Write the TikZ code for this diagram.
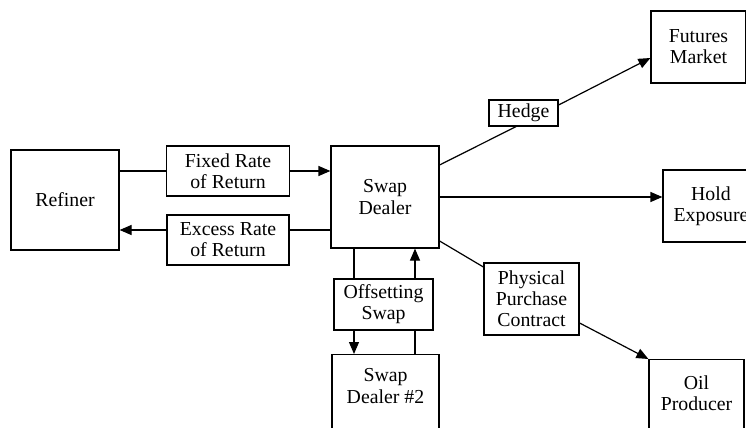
\documentclass[tikz,border=0pt]{standalone}
\usepackage{fontspec}
\setmainfont{Liberation Serif}
\usetikzlibrary{arrows.meta}

\begin{document}
\begin{tikzpicture}[x=0.5pt,y=-0.5pt,
  line width=0.6pt,
  box/.style = {draw,fill=white,align=center,inner sep=1pt,
        font=\fontsize{9.9}{10.6}\selectfont},
  txt/.style = {align=center,inner sep=1pt,
        font=\fontsize{9.9}{10.6}\selectfont}]
 \useasboundingbox (0,0) rectangle (746,428);
 \clip (0,0) rectangle (746,428);
 % left side
 \node[box,minimum width=54pt,minimum height=50pt] (refiner) at (65,200) {Refiner};
 \node[box,minimum width=61.5pt,minimum height=25pt] (fixed) at (228,171) {Fixed Rate\\of Return};
 \node[box,minimum width=61pt,minimum height=25pt] (excess) at (228,240) {Excess Rate\\of Return};
 % dealers
 \node[box,minimum width=54pt,minimum height=51pt] (dealer) at (385,197) {Swap\\Dealer};
 \node[box,minimum width=49.5pt,minimum height=25.5pt] (offset) at (383.5,304.5) {Offsetting\\Swap};
 \node[box,minimum width=53.5pt,minimum height=50pt,anchor=north] (dealer2) at (385.5,354) {};
 \node[txt] (dealer2txt) at (385.5,386) {Swap\\Dealer \#2};
 % right side
 \node[box,minimum width=34.5pt,minimum height=13pt] (hedge) at (523.5,113) {Hedge};
 \node[box,minimum width=47.5pt,minimum height=36pt] (futures) at (698.5,47) {Futures\\Market};
 \node[box,minimum width=48pt,minimum height=36pt] (hold) at (711,206) {Hold\\Exposure};
 \node[box,minimum width=47.5pt,minimum height=36pt] (physical) at (531.5,299) {Physical\\Purchase\\Contract};
 \node[box,minimum width=47.5pt,minimum height=50pt,anchor=north] (oil) at (696.5,359) {};
 \node[txt] (oiltxt) at (696.5,393) {Oil\\Producer};
 \begin{scope}[>={Triangle[length=6pt,width=5pt]}]
  \draw (refiner.east |- fixed.center) -- (fixed.west);
  \draw[->] (fixed.east) -- (fixed.east -| dealer.west);
  \draw ([yshift=5pt]excess.east -| dealer.west) -- ([yshift=5pt]excess.east);
  \draw[->] ([yshift=5pt]excess.west) -- ([yshift=5pt]excess.west -| refiner.east);
  % offsetting swap
  \draw ([xshift=-15.5pt]dealer.south) -- ([xshift=-15.5pt]dealer.south |- offset.north);
  \draw[->] ([xshift=-15.5pt]dealer.south |- offset.south) -- ([xshift=-15.5pt]dealer.south |- dealer2.north);
  \draw ([xshift=15pt]dealer2.north -| dealer.south) -- ([xshift=15pt]dealer.south |- offset.south);
  \draw[->] ([xshift=15pt]dealer.south |- offset.north) -- ([xshift=15pt]dealer.south);
  % hedge, hold, physical
  \draw ([yshift=16pt]dealer.east) -- ([xshift=-3.75pt]hedge.south);
  \draw[->] ([yshift=4pt]hedge.east) -- ([yshift=-5.5pt]futures.west);
  \draw[->] (dealer.east) -- (dealer.east -| hold.west);
  \draw ([yshift=-22pt]dealer.east) -- ([yshift=16pt]physical.west);
  \draw[->] ([yshift=-12pt]physical.east) -- (oil.north west);
 \end{scope}
\end{tikzpicture}
\end{document}
